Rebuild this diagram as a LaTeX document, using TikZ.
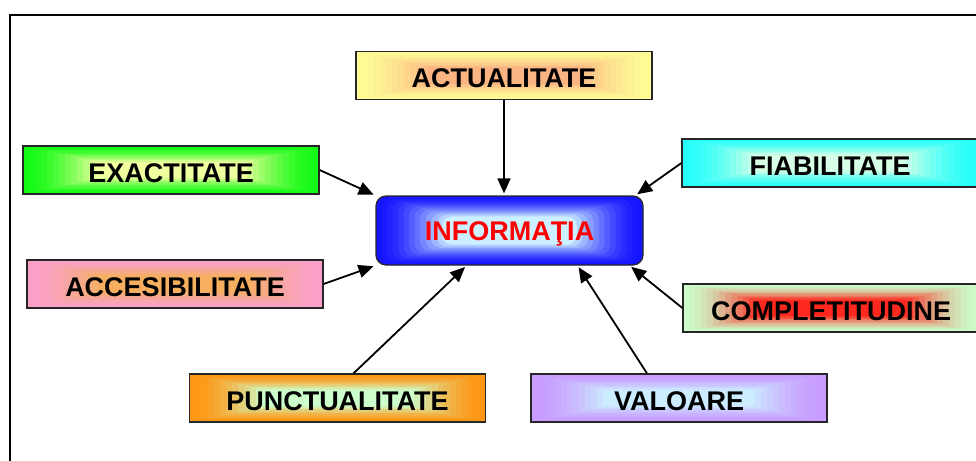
\documentclass[tikz,border=0pt]{standalone}
\usepackage{fontspec}
\setmainfont{Liberation Sans}
\usetikzlibrary{arrows.meta,positioning}

\definecolor{actoutcolor}{RGB}{255,250,150}
\definecolor{actincolor}{RGB}{250,180,130}
\definecolor{exaoutcolor}{RGB}{20,250,20}
\definecolor{exaincolor}{RGB}{240,255,160}
\definecolor{accoutcolor}{RGB}{250,160,200}
\definecolor{accincolor}{RGB}{245,175,95}
\definecolor{fiaoutcolor}{RGB}{40,255,250}
\definecolor{fiaincolor}{RGB}{215,255,230}
\definecolor{compoutcolor}{RGB}{204,250,200}
\definecolor{compincolor}{RGB}{255,40,30}
\definecolor{puncoutcolor}{RGB}{255,150,20}
\definecolor{puncincolor}{RGB}{204,255,204}
\definecolor{valoutcolor}{RGB}{200,155,255}
\definecolor{valincolor}{RGB}{204,236,255}
\definecolor{infooutcolor}{RGB}{20,20,255}
\definecolor{infoincolor}{RGB}{204,240,255}
\definecolor{infotextcolor}{RGB}{255,0,0}

\tikzset{
  gradbox/.style n args={4}{draw=black!85, line width=1.2pt, inner sep=0pt,
    minimum width=296pt, minimum height=48pt,
    font=\fontsize{27}{30}\selectfont\bfseries, text height=24pt, text depth=0pt,
    path picture={
      \foreach \k in {0,...,12}{
        \pgfmathsetmacro\pct{100*(\k/12)^1.6}
        \pgfmathsetmacro\insx{#3*\k}
        \pgfmathsetmacro\insy{#4*\k}
        \fill[#2!\pct!#1]
          ([shift={(\insx pt,\insy pt)}]path picture bounding box.south west) rectangle
          ([shift={(-\insx pt,-\insy pt)}]path picture bounding box.north east);
      }}},
  infobox/.style={gradbox={infooutcolor}{infoincolor}{5.5}{1.7},
    minimum width=267pt, minimum height=69pt, rounded corners=10pt,
    text height=20pt, text=infotextcolor},
  arr/.style={line width=1.8pt, -{Triangle[length=15pt,width=13pt]}, shorten >=2pt}
}

\begin{document}
\begin{tikzpicture}[x=1pt,y=-1pt]
\useasboundingbox (0,0) rectangle (976,460);
\clip (0,0) rectangle (976,460);
% frame
\draw[line width=1.3pt] (10,15) rectangle (990,480);
% centre
\node[infobox] (info) at (509.5,230.5) {INFORMAŢIA};
% boxes round it
\node[gradbox={actoutcolor}{actincolor}{6}{1.3}] (act) at (504,75.5) {ACTUALITATE};
\node[gradbox={exaoutcolor}{exaincolor}{6}{1.3}] (exa) at (171,170) {EXACTITATE};
\node[gradbox={accoutcolor}{accincolor}{6}{1.3}] (acc) at (175,284) {ACCESIBILITATE};
\node[gradbox={fiaoutcolor}{fiaincolor}{6}{1.3}] (fia) at (830,163) {FIABILITATE};
\node[gradbox={compoutcolor}{compincolor}{6}{1.3}] (comp) at (831,308) {COMPLETITUDINE};
\node[gradbox={puncoutcolor}{puncincolor}{6}{1.3}] (punc) at (337.5,398) {PUNCTUALITATE};
\node[gradbox={valoutcolor}{valincolor}{6}{1.3}] (val) at (679,398) {VALOARE};
% arrows
\draw[arr] (act.south) -- (act.south |- info.north);
\draw[arr] (exa.east) -- (info.north west);
\draw[arr] (acc.east) -- (info.south west);
\draw[arr] (fia.west) -- ([xshift=-8pt]info.north east);
\draw[arr] (comp.west) -- ([xshift=-14pt]info.south east);
\draw[arr] ([xshift=16pt]punc.north) -- ([xshift=-43pt]info.south);
\draw[arr] ([xshift=-32pt]val.north) -- ([xshift=68pt]info.south);
\end{tikzpicture}
\end{document}
